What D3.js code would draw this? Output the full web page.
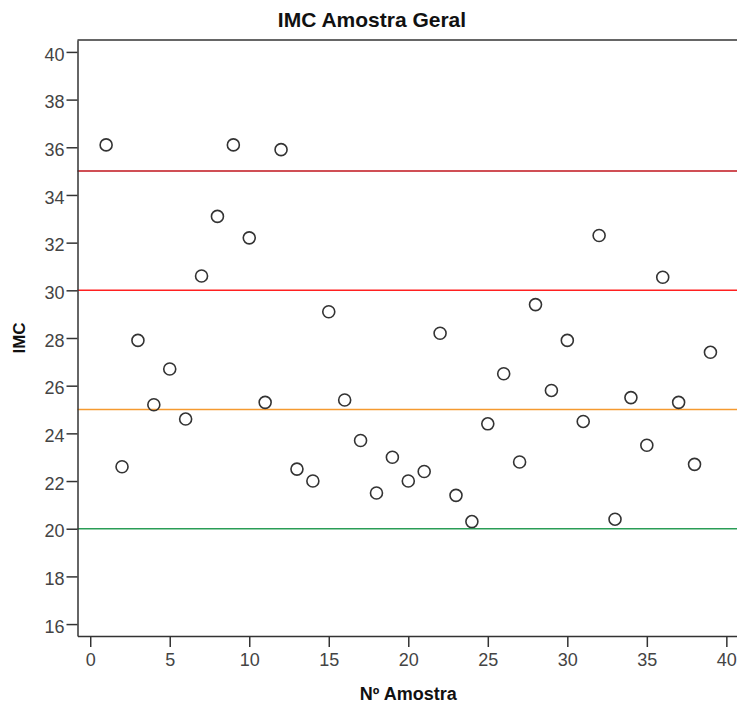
<!DOCTYPE html>
<html>
<head>
<meta charset="utf-8">
<script src="https://cdn.jsdelivr.net/npm/d3@7"></script>
<style>
  body { margin: 0; background: #fff; }
  svg { display: block; font-family: "Liberation Sans", Arial, sans-serif; }
</style>
</head>
<body>
<svg id="chart" width="737" height="704"></svg>
<script>
// sample number -> IMC
var amostra = d3.range(1, 40);
var imc = [36.1, 22.6, 27.9, 25.2, 26.7, 24.6, 30.6, 33.1, 36.1, 32.2,
           25.3, 35.9, 22.5, 22.0, 29.1, 25.4, 23.7, 21.5, 23.0, 22.0,
           22.4, 28.2, 21.4, 20.3, 24.4, 26.5, 22.8, 29.4, 25.8, 27.9,
           24.5, 32.3, 20.4, 25.5, 23.5, 30.55, 25.3, 22.7, 27.4];

var xTicks = [0, 5, 10, 15, 20, 25, 30, 35, 40];
var yTicks = [16, 18, 20, 22, 24, 26, 28, 30, 32, 34, 36, 38, 40];

// reference lines (cut-offs)
var refValues = [35, 30, 25, 20];
var refColors = ["#c0141c", "#ff2020", "#f59a30", "#2a9d56"];

var svg = d3.select("#chart");
// note: "top" is reserved on window, so use plot* names
var plotLeft = 77.5, plotRight = 737, plotTop = 40, plotBottom = 636;

var x = d3.scaleLinear().domain([-0.8, 40.67]).range([plotLeft, plotRight]);
var y = d3.scaleLinear().domain([15.5, 40.5]).range([plotBottom, plotTop]);

var axisColor = "#333";

// title (centred on the whole image, as in the original)
svg.append("text")
  .attr("x", 372)
  .attr("y", 27)
  .attr("text-anchor", "middle")
  .style("font-size", "21px")
  .style("font-weight", "bold")
  .attr("fill", "#111")
  .text("IMC Amostra Geral");

// reference lines
svg.append("g").selectAll("line")
  .data(refValues)
  .enter()
  .append("line")
    .attr("x1", plotLeft)
    .attr("x2", plotRight)
    .attr("y1", function(d) { return y(d); })
    .attr("y2", function(d) { return y(d); })
    .attr("stroke", function(d, i) { return refColors[i]; })
    .attr("stroke-width", 1.5);

// top frame line
svg.append("line")
  .attr("x1", plotLeft).attr("x2", plotRight)
  .attr("y1", plotTop).attr("y2", plotTop)
  .attr("stroke", axisColor)
  .attr("stroke-width", 1.5);

// axes
var yAxis = svg.append("g")
  .attr("transform", "translate(" + plotLeft + ",0)")
  .call(d3.axisLeft(y).tickValues(yTicks).tickSize(11).tickPadding(2).tickSizeOuter(0));

var xAxis = svg.append("g")
  .attr("transform", "translate(0," + plotBottom + ")")
  .call(d3.axisBottom(x).tickValues(xTicks).tickSize(11).tickPadding(6).tickSizeOuter(0));

[xAxis, yAxis].forEach(function(ax) {
  ax.select(".domain").attr("stroke", axisColor).attr("stroke-width", 1.5);
  ax.selectAll(".tick line").attr("stroke", axisColor).attr("stroke-width", 1.5);
  ax.selectAll(".tick text")
    .attr("fill", "#444")
    .style("font-size", "18px")
    .style("font-family", "'Liberation Sans', Arial, sans-serif");
});
yAxis.selectAll(".tick text").attr("dy", "0.45em");

// axis titles
svg.append("text")
  .attr("x", (plotLeft + plotRight) / 2 + 1)
  .attr("y", 700)
  .attr("text-anchor", "middle")
  .style("font-size", "18px")
  .style("font-weight", "bold")
  .attr("fill", "#111")
  .text("Nº Amostra");

svg.append("text")
  .attr("transform", "translate(25," + (plotTop + plotBottom) / 2 + ") rotate(-90)")
  .attr("text-anchor", "middle")
  .style("font-size", "17px")
  .style("font-weight", "bold")
  .attr("fill", "#111")
  .text("IMC");

// points
svg.append("g").selectAll("circle")
  .data(imc)
  .enter()
  .append("circle")
    .attr("cx", function(d, i) { return x(amostra[i]); })
    .attr("cy", function(d) { return y(d); })
    .attr("r", 6)
    .attr("fill", "none")
    .attr("stroke", "#333")
    .attr("stroke-width", 1.6);
</script>
</body>
</html>
